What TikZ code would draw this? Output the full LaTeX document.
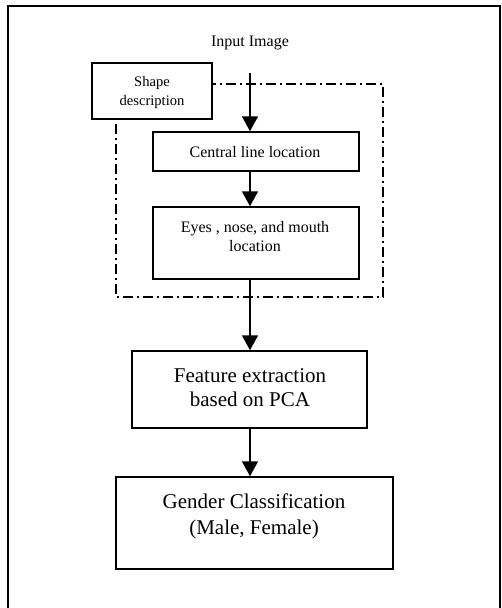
\documentclass[tikz,border=0pt]{standalone}
\usepackage{fontspec}
\setmainfont{Liberation Serif}
\usetikzlibrary{arrows.meta}
\begin{document}
\begin{tikzpicture}[x=1pt,y=-1pt,
  box/.style={draw,line width=1.5pt,rectangle,inner sep=0pt,fill=white},
  txt/.style={align=center,inner sep=0pt},
  arr/.style={line width=1.8pt,-{Triangle[length=15pt,width=16pt]}},
  dashdot/.style={line width=1.3pt,dash pattern=on 10pt off 4pt on 2pt off 4pt}]
\useasboundingbox (0,0) rectangle (502,608);
% outer frame
\draw[line width=2pt] (8,608) -- (8,6) -- (500,6) -- (500,608);
% dash-dot region
\draw[dashdot] (116,84) rectangle (383,297);
% boxes
\node[box,minimum width=120pt,minimum height=56pt] (shape) at (152,91) {};
\node[box,minimum width=206pt,minimum height=39pt] (central) at (256,151.5) {};
\node[box,minimum width=206pt,minimum height=72pt] (eyes) at (256,243) {};
\node[box,minimum width=235pt,minimum height=77pt] (feat) at (249.5,389.5) {};
\node[box,minimum width=277pt,minimum height=92pt] (gender) at (254.5,523) {};
% texts
\node[txt,font=\fontsize{16}{19}\selectfont] (input) at (250,43) {Input Image};
\coordinate (instart) at (250,73);
\node[txt,font=\fontsize{14.6}{19}\selectfont] (shapet) at (152,92) {Shape\\description};
\node[txt,font=\fontsize{16}{19}\selectfont] (centralt) at (255,152) {Central line location};
\node[txt,font=\fontsize{16}{19}\selectfont] (eyest) at (255,237) {Eyes , nose, and mouth\\location};
\node[txt,font=\fontsize{21}{24}\selectfont] (featt) at (250,388) {Feature extraction\\based on PCA};
\node[txt,font=\fontsize{21}{26}\selectfont] (gendert) at (254,516) {Gender Classification\\(Male, Female)};
% arrows
\draw[arr] (instart) -- (instart |- central.north);
\draw[arr] (instart |- central.south) -- (instart |- eyes.north);
\draw[arr] (instart |- eyes.south) -- (instart |- feat.north);
\draw[arr] (instart |- feat.south) -- (instart |- gender.north);
\end{tikzpicture}
\end{document}
